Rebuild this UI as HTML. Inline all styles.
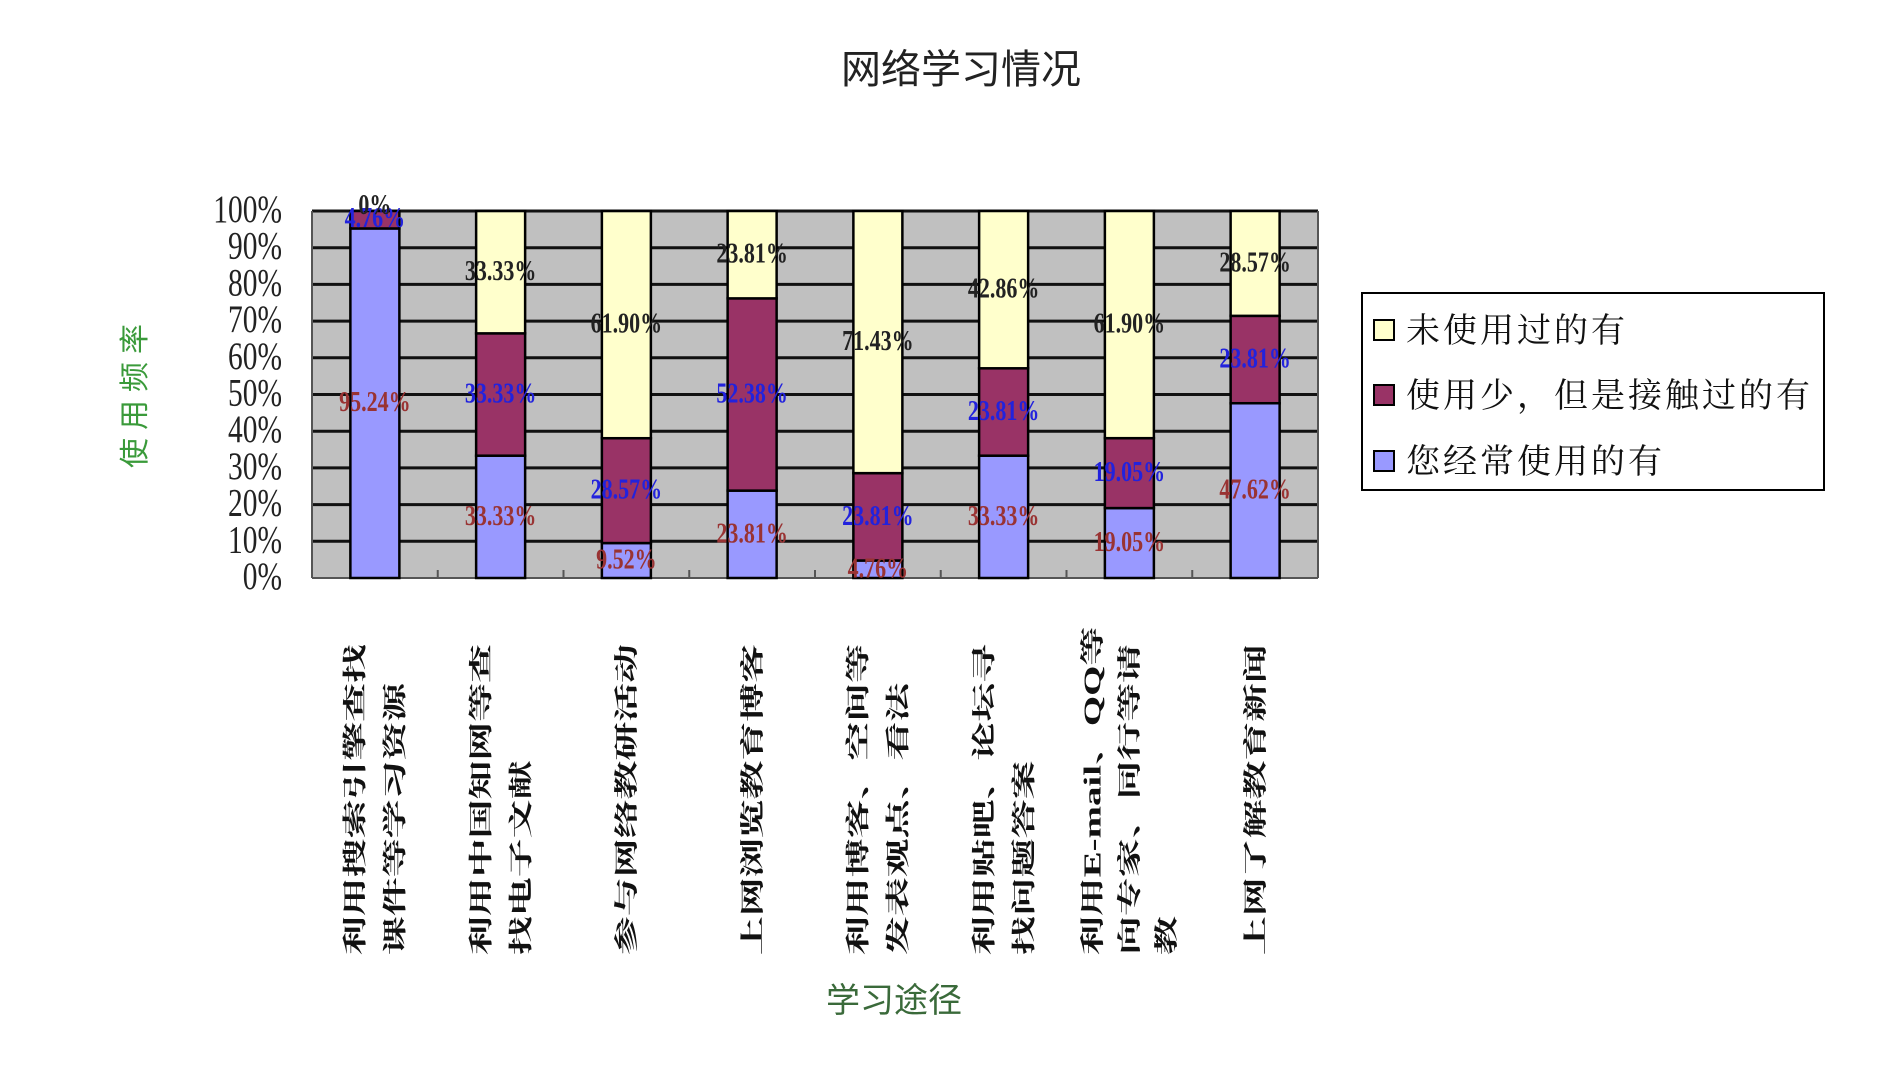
<!DOCTYPE html>
<html><head><meta charset="utf-8"><style>
html,body{margin:0;padding:0;background:#fff;width:1900px;height:1073px;overflow:hidden}
text{font-family:"Liberation Serif","Noto Serif CJK SC","Noto Sans CJK SC",serif}
.c{font-family:"Liberation Sans","Noto Sans CJK SC",sans-serif}
.m{font-family:"Liberation Mono","Noto Sans CJK SC",monospace}
</style></head><body>
<svg width="1900" height="1073" viewBox="0 0 1900 1073" xmlns="http://www.w3.org/2000/svg">
<text x="961" y="83" class="c" font-size="40" text-anchor="middle" fill="#222">网络学习情况</text>
<rect x="312" y="211" width="1006" height="367" fill="#c0c0c0"/>
<g stroke="#111" stroke-width="3">
<line x1="312" y1="211" x2="1318" y2="211"/>
<line x1="312" y1="247.7" x2="1318" y2="247.7"/>
<line x1="312" y1="284.4" x2="1318" y2="284.4"/>
<line x1="312" y1="321.1" x2="1318" y2="321.1"/>
<line x1="312" y1="357.8" x2="1318" y2="357.8"/>
<line x1="312" y1="394.5" x2="1318" y2="394.5"/>
<line x1="312" y1="431.2" x2="1318" y2="431.2"/>
<line x1="312" y1="467.9" x2="1318" y2="467.9"/>
<line x1="312" y1="504.6" x2="1318" y2="504.6"/>
<line x1="312" y1="541.3" x2="1318" y2="541.3"/>
</g>
<g stroke="#555" stroke-width="2">
<line x1="312" y1="211" x2="312" y2="578"/>
<line x1="1318" y1="211" x2="1318" y2="578"/>
<line x1="312" y1="578" x2="1318" y2="578"/>
<line x1="437.75" y1="570" x2="437.75" y2="578"/><line x1="563.5" y1="570" x2="563.5" y2="578"/>
<line x1="689.25" y1="570" x2="689.25" y2="578"/><line x1="815" y1="570" x2="815" y2="578"/>
<line x1="940.75" y1="570" x2="940.75" y2="578"/><line x1="1066.5" y1="570" x2="1066.5" y2="578"/>
<line x1="1192.25" y1="570" x2="1192.25" y2="578"/>
</g>
<g id="bars" stroke="#000" stroke-width="2.5"></g>
<g id="labs" font-size="22" text-anchor="middle" class="m" font-weight="bold"></g>
<g font-size="31" text-anchor="end" fill="#222" id="ylab"></g>
<text transform="translate(145,392) rotate(-90)" font-size="30" class="c" fill="#3a9a3a" text-anchor="middle" letter-spacing="8">使用频率</text>
<text x="894" y="1012" font-size="34" class="c" fill="#3a6a3a" text-anchor="middle">学习途径</text>
<rect x="1362" y="293" width="462" height="197" fill="#fff" stroke="#000" stroke-width="2"/>
<rect x="1374" y="320" width="20" height="20" fill="#ffffcc" stroke="#000" stroke-width="2"/>
<rect x="1374" y="385" width="20" height="20" fill="#993366" stroke="#000" stroke-width="2"/>
<rect x="1374" y="451" width="20" height="20" fill="#9999ff" stroke="#000" stroke-width="2"/>
<g font-size="34" fill="#111" letter-spacing="3">
<text x="1406" y="342">未使用过的有</text>
<text x="1406" y="407">使用少，但是接触过的有</text>
<text x="1406" y="473">您经常使用的有</text>
</g>
<g id="cats" font-size="24" fill="#111" font-weight="bold"></g>
</svg>
<script>
var NS="http://www.w3.org/2000/svg";
var data=[[95.24,4.76,0],[33.33,33.33,33.33],[9.52,28.57,61.90],[23.81,52.38,23.81],[4.76,23.81,71.43],[33.33,23.81,42.86],[19.05,19.05,61.90],[47.62,23.81,28.57]];
var cols=["#9999ff","#993366","#ffffcc"],lc=["#993333","#2222dd","#222"];
var x0=312,cw=125.75,yb=578,H=367,bw=49;
var bars=document.getElementById("bars"),labs=document.getElementById("labs");
function el(t,a,p,txt){var e=document.createElementNS(NS,t);for(var k in a)e.setAttribute(k,a[k]);if(txt!=null)e.textContent=txt;p.appendChild(e);return e;}
data.forEach(function(d,i){var cx=x0+cw*(i+0.5),acc=0;
 d.forEach(function(v,j){var y1=yb-H*(acc+v)/100,y0=yb-H*acc/100;
  if(v>0)el("rect",{x:cx-bw/2,y:y1,width:bw,height:y0-y1,fill:cols[j]},bars);
  var ly=(y0+y1)/2; if(i==0&&j==1)ly=y1+8; if(i==0&&j==2)ly=206;
  el("text",{transform:"translate("+cx+","+(ly+8)+") scale(1,1.3)",fill:lc[j]},labs,(v==0?"0%":v.toFixed(2)+"%"));
  acc+=v;});});
var yl=document.getElementById("ylab");
for(var k=0;k<=10;k++){el("text",{transform:"translate(282,"+(yb-H*k/10+11)+") scale(0.95,1.25)"},yl,(k*10)+"%");}
var cats=[["利用搜索引擎查找","课件等学习资源"],["利用中国知网等查","找电子文献"],["参与网络教研活动"],["上网浏览教育博客"],["利用博客、空间等","发表观点、看法"],["利用贴吧、论坛寻","找问题答案"],["利用E-mail、QQ等","向专家、同行等请","教"],["上网了解教育新闻"]];
var cg=document.getElementById("cats");
cats.forEach(function(ls,i){var cx=x0+cw*(i+0.5),n=ls.length,sp=(n==3?37:40);
 ls.forEach(function(s,j){var x=cx+(j-(n-1)/2)*sp;
  el("text",{transform:"translate("+x+",955) rotate(-90) scale(1.62,1)","dominant-baseline":"central"},cg,s);});});
</script>
</body></html>
